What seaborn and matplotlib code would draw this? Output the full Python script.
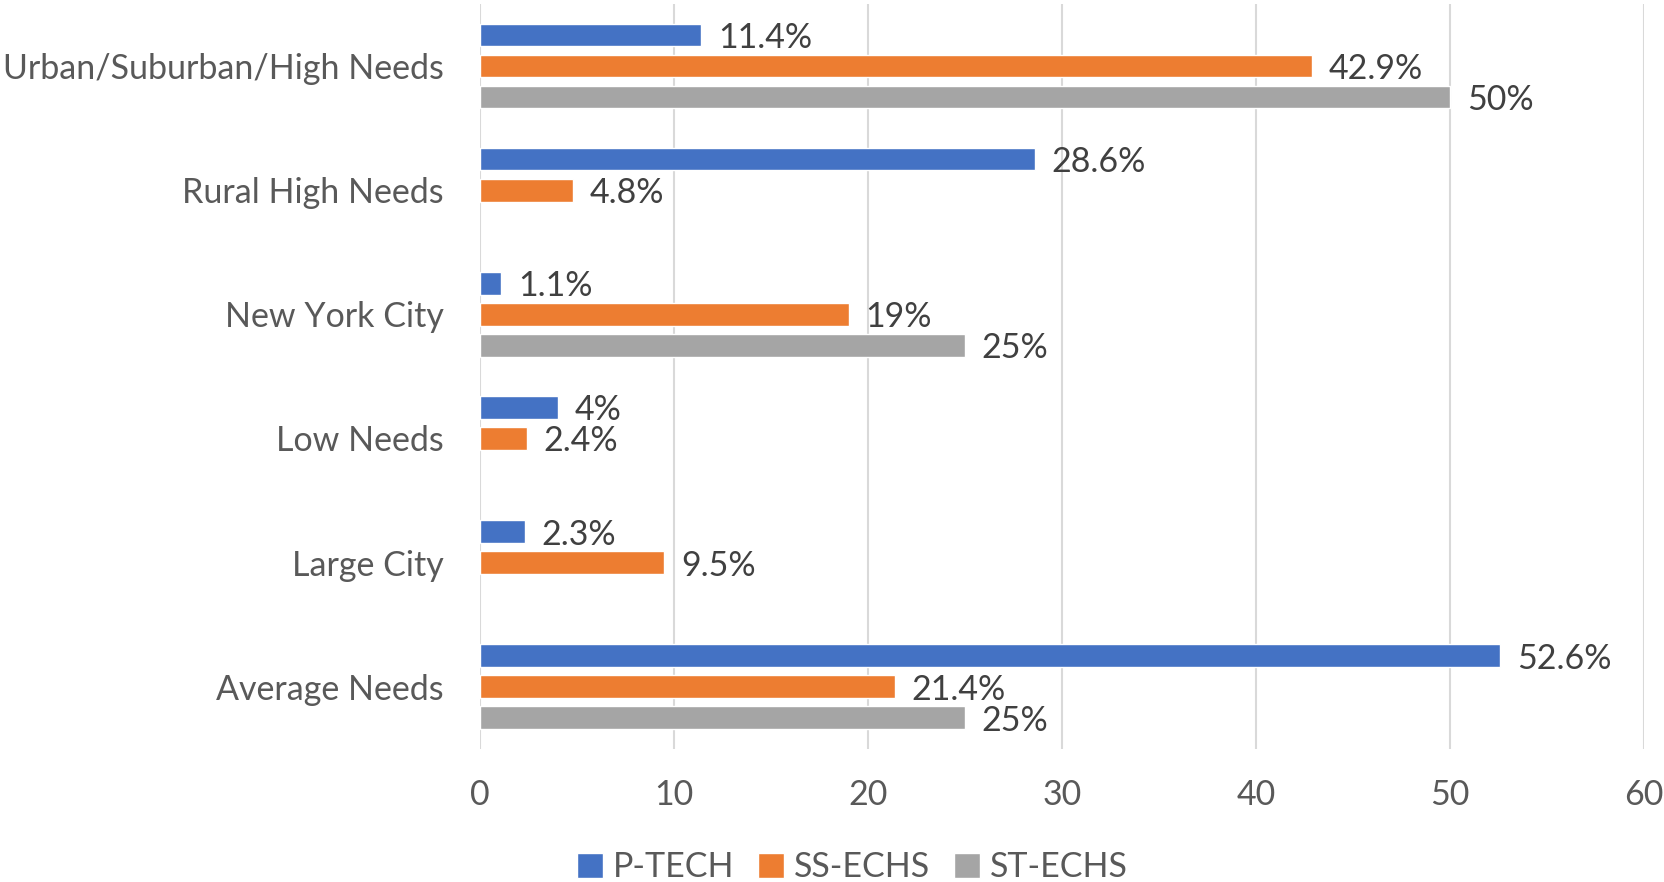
import matplotlib
matplotlib.use("Agg")
import matplotlib.pyplot as plt
import seaborn as sns
import pandas as pd
from matplotlib.patches import Patch

categories = ["Urban/Suburban/High Needs", "Rural High Needs", "New York City",
              "Low Needs", "Large City", "Average Needs"]
series = ["P-TECH", "SS-ECHS", "ST-ECHS"]
p_tech = [11.4, 28.6, 1.1, 4.0, 2.3, 52.6]
ss_echs = [42.9, 4.8, 19.0, 2.4, 9.5, 21.4]
st_echs = [50.0, None, 25.0, None, None, 25.0]
colors = ["#4472C4", "#ED7D31", "#A5A5A5"]
xticks = [0, 10, 20, 30, 40, 50, 60]

rows = []
for s, vals in zip(series, [p_tech, ss_echs, st_echs]):
    for c, v in zip(categories, vals):
        if v is not None:
            rows.append({"cat": c, "series": s, "val": v})
df = pd.DataFrame(rows)

sns.set_theme(style="white")
plt.rcParams["font.family"] = ["Lato", "DejaVu Sans"]

fig = plt.figure(figsize=(16.65, 8.82), dpi=100)
ax = fig.add_axes([0.2883, 0.151, 0.6991, 0.8445])

sns.barplot(data=df, y="cat", x="val", hue="series", order=categories,
            hue_order=series, palette=colors, orient="h", width=0.75, gap=0.27,
            saturation=1, ax=ax, legend=False, errorbar=None)

for cont in ax.containers:
    labels = [f"{v:g}%" for v in cont.datavalues]
    texts = ax.bar_label(cont, labels=labels, padding=12, fontsize=24.5, color="#404040")
    for t in texts:
        t.set_va("center_baseline")

ax.set_xlim(0, 60)
ax.set_ylim(5.5, -0.5)
ax.set_xticks(xticks)
ax.set_xticklabels([str(t) for t in xticks])
ax.set_xlabel("")
ax.set_ylabel("")
ax.tick_params(axis="x", length=0, pad=22, labelsize=24.5, labelcolor="#595959")
ax.tick_params(axis="y", length=0, pad=26, labelsize=24.5, labelcolor="#595959")
for sp in ax.spines.values():
    sp.set_visible(False)
ax.grid(axis="x", color="#D9D9D9", linewidth=1.5)
ax.grid(axis="y", visible=False)
ax.set_axisbelow(True)

handles = [Patch(facecolor=c, label=s) for c, s in zip(colors, series)]
fig.legend(handles=handles, loc="center", bbox_to_anchor=(0.512, 0.017), ncol=3,
           frameon=False, fontsize=24.5, labelcolor="#595959", handlelength=0.75,
           handleheight=0.75, handletextpad=0.3, columnspacing=0.7)

fig.savefig("out.png", dpi=100)
